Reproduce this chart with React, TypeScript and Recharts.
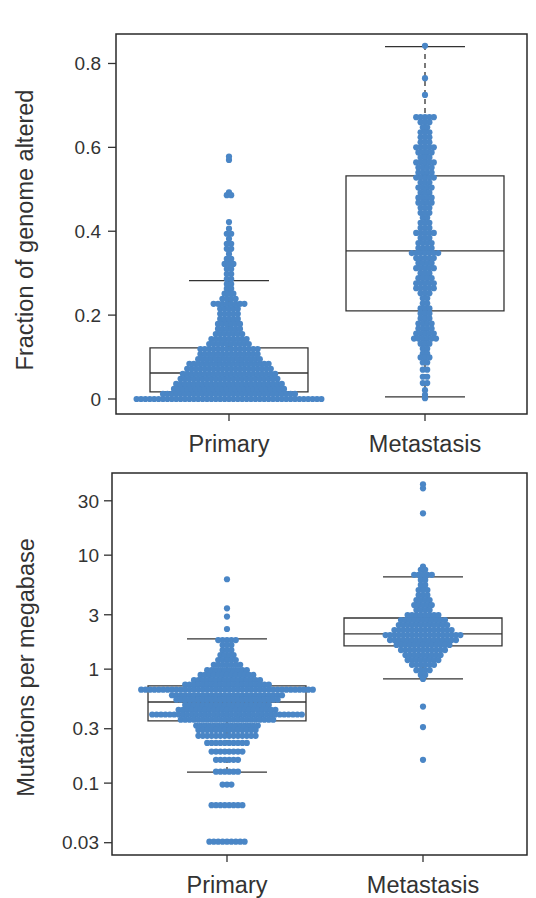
import { ScatterChart, Scatter, XAxis, YAxis, ReferenceArea, ReferenceLine } from 'recharts';

const GROUPS = ['Primary', 'Metastasis'];

// each row: [value, number of dots stacked side by side at that value]
const fgaPrimaryRows: [number, number][] = [
  [0, 43], [0.012, 31], [0.024, 26], [0.036, 25], [0.048, 23], [0.06, 22], [0.072, 20],
  [0.084, 19], [0.095, 15], [0.107, 14], [0.119, 14], [0.131, 10], [0.143, 9], [0.155, 7],
  [0.167, 6], [0.179, 6], [0.191, 5], [0.203, 5], [0.215, 5], [0.227, 8], [0.239, 4],
  [0.251, 3], [0.263, 2], [0.274, 2], [0.286, 2], [0.298, 2], [0.31, 2], [0.322, 3],
  [0.334, 2], [0.346, 1], [0.358, 2], [0.37, 2], [0.382, 1], [0.394, 2], [0.406, 1],
  [0.422, 1], [0.486, 2], [0.493, 1], [0.57, 1], [0.578, 1],
];
const fgaMetastasisRows: [number, number][] = [
  [0.842, 1], [0.765, 1], [0.725, 1], [0.672, 5], [0.66, 3], [0.648, 2], [0.636, 3],
  [0.624, 3], [0.612, 3], [0.6, 5], [0.588, 4], [0.576, 3], [0.564, 5], [0.552, 4],
  [0.54, 4], [0.528, 5], [0.516, 3], [0.504, 4], [0.492, 3], [0.48, 4], [0.468, 4],
  [0.456, 3], [0.444, 3], [0.432, 2], [0.42, 3], [0.408, 3], [0.396, 5], [0.384, 3],
  [0.372, 4], [0.36, 4], [0.348, 7], [0.336, 5], [0.324, 4], [0.312, 5], [0.3, 3],
  [0.288, 4], [0.276, 5], [0.264, 5], [0.252, 3], [0.24, 2], [0.228, 2], [0.216, 3],
  [0.204, 3], [0.192, 3], [0.18, 4], [0.168, 4], [0.156, 5], [0.144, 6], [0.132, 3],
  [0.12, 2], [0.108, 2], [0.099, 3], [0.087, 2], [0.07, 2], [0.053, 2], [0.038, 2],
  [0.021, 1], [0.01, 1], [0.002, 1],
];
// [lower whisker, q1, median, q3, upper whisker]
const fgaPrimaryBox = [0, 0.017, 0.062, 0.122, 0.282];
const fgaMetastasisBox = [0.005, 0.21, 0.353, 0.532, 0.84];
const fgaTicks = [0, 0.2, 0.4, 0.6, 0.8];

const tmbPrimaryRows: [number, number][] = [
  [6.15, 1], [3.42, 1], [2.89, 1], [2.25, 1], [1.8, 5], [1.63, 3], [1.47, 3], [1.33, 4],
  [1.2, 5], [1.09, 7], [0.98, 10], [0.89, 13], [0.8, 16], [0.73, 20], [0.66, 40],
  [0.59, 26], [0.54, 24], [0.485, 20], [0.44, 23], [0.4, 35], [0.36, 22], [0.32, 15],
  [0.293, 14], [0.26, 14], [0.225, 10], [0.189, 8], [0.16, 6], [0.126, 6], [0.097, 3],
  [0.064, 8], [0.0306, 9],
];
const tmbMetastasisRows: [number, number][] = [
  [41.9, 1], [38.6, 1], [23.3, 1], [7.93, 1], [7.44, 2], [6.72, 5], [6.07, 2], [5.48, 2],
  [4.95, 3], [4.47, 3], [4.04, 4], [3.65, 5], [3.3, 4], [2.98, 8], [2.7, 11], [2.44, 12],
  [2.2, 14], [1.99, 18], [1.8, 16], [1.63, 13], [1.47, 11], [1.33, 9], [1.2, 8], [1.09, 6],
  [0.98, 4], [0.89, 2], [0.82, 1], [0.469, 1], [0.31, 1], [0.16, 1],
];
const tmbPrimaryBox = [0.125, 0.351, 0.515, 0.712, 1.84];
const tmbMetastasisBox = [0.82, 1.6, 2.04, 2.81, 6.44];
const tmbTicks = [0.03, 0.1, 0.3, 1, 3, 10, 30];

const DOT = '#4a86c6';
const INK = '#333';
const FONT = '"Liberation Sans", Arial, sans-serif';
const DOT_R = 3.1;
const PITCH = 4.4; // horizontal spacing between dots in a row, px
const BOX_HALF = 0.403; // in x units (one group = 1)
const CAP_HALF = 0.204;

// spread each row symmetrically around the group centre
const toPoints = (rows: [number, number][], group: number) =>
  rows.flatMap(([y, n]) => Array.from({ length: n }, (_, i) => ({ x: group, y, slot: i - (n - 1) / 2 })));

const SwarmDot = (props: any) => {
  const { cx, cy, payload } = props;
  if (cx == null || cy == null) return null;
  return <circle cx={cx + payload.slot * PITCH} cy={cy} r={DOT_R} fill={DOT} />;
};

const boxElements = (stats: number[], g: number, key: string) => {
  const [lo, q1, med, q3, hi] = stats;
  const line = { stroke: INK, strokeWidth: 1.3 };
  return [
    <ReferenceArea key={key + 'box'} x1={g - BOX_HALF} x2={g + BOX_HALF} y1={q1} y2={q3} fill="none" fillOpacity={0} {...line} />,
    <ReferenceLine key={key + 'med'} segment={[{ x: g - BOX_HALF, y: med }, { x: g + BOX_HALF, y: med }]} {...line} />,
    <ReferenceLine key={key + 'wu'} segment={[{ x: g, y: q3 }, { x: g, y: hi }]} strokeDasharray="5 4" {...line} />,
    <ReferenceLine key={key + 'wl'} segment={[{ x: g, y: lo }, { x: g, y: q1 }]} strokeDasharray="5 4" {...line} />,
    <ReferenceLine key={key + 'cu'} segment={[{ x: g - CAP_HALF, y: hi }, { x: g + CAP_HALF, y: hi }]} {...line} />,
    <ReferenceLine key={key + 'cl'} segment={[{ x: g - CAP_HALF, y: lo }, { x: g + CAP_HALF, y: lo }]} {...line} />,
  ];
};

const axisTitle = (text: string, x: number, y: number) => () => (
  <text x={x} y={y} transform={`rotate(-90 ${x} ${y})`} textAnchor="middle" fontSize={23.5} fill={INK} fontFamily={FONT}>
    {text}
  </text>
);

type PanelProps = {
  top: number;
  height: number;
  marginTop: number;
  axisWidth: number;
  xAxisHeight: number;
  xDomain: [number, number];
  yDomain: [number, number];
  log?: boolean;
  ticks: number[];
  tickMargin: number;
  title: string;
  titleX: number;
  titleY: number;
  primary: [number, number][];
  metastasis: [number, number][];
  primaryBox: number[];
  metastasisBox: number[];
};

const Panel = (p: PanelProps) => {
  const points = [...toPoints(p.primary, 1), ...toPoints(p.metastasis, 2)];
  return (
    <div style={{ position: 'absolute', left: 0, top: p.top }}>
      <ScatterChart width={536} height={p.height} margin={{ top: p.marginTop, right: 9, bottom: 0, left: 0 }}>
        <XAxis
          type="number"
          dataKey="x"
          domain={p.xDomain}
          allowDataOverflow
          ticks={[1, 2]}
          tickFormatter={(v: number) => GROUPS[v - 1]}
          axisLine={false}
          tickLine={{ stroke: INK, strokeWidth: 1.3 }}
          tickSize={7}
          tickMargin={14}
          height={p.xAxisHeight}
          tick={{ fontSize: 23.5, fill: INK, fontFamily: FONT }}
        />
        <YAxis
          type="number"
          dataKey="y"
          scale={p.log ? 'log' : 'linear'}
          domain={p.yDomain}
          allowDataOverflow
          ticks={p.ticks}
          tickFormatter={(v: number) => String(v)}
          axisLine={false}
          tickLine={{ stroke: INK, strokeWidth: 1.3 }}
          tickSize={8}
          tickMargin={p.tickMargin}
          width={p.axisWidth}
          tick={{ fontSize: 19, fill: INK, fontFamily: FONT }}
          label={axisTitle(p.title, p.titleX, p.titleY)}
        />
        <ReferenceArea
          x1={p.xDomain[0]}
          x2={p.xDomain[1]}
          y1={p.yDomain[0]}
          y2={p.yDomain[1]}
          fill="none"
          fillOpacity={0}
          stroke="#2a2a2a"
          strokeWidth={1.5}
          ifOverflow="visible"
        />
        {boxElements(p.primaryBox, 1, 'p')}
        {boxElements(p.metastasisBox, 2, 'm')}
        <Scatter data={points} shape={SwarmDot} isAnimationActive={false} />
      </ScatterChart>
    </div>
  );
};

export default function App() {
  return (
    <div style={{ position: 'absolute', left: 0, top: 0, width: 536, height: 898, background: '#fff', fontFamily: FONT }}>
      <Panel
        top={0}
        height={460}
        marginTop={34}
        axisWidth={116}
        xAxisHeight={46}
        xDomain={[0.4235, 2.5204]}
        yDomain={[-0.0358, 0.8703]}
        ticks={fgaTicks}
        tickMargin={7}
        title="Fraction of genome altered"
        titleX={33}
        titleY={230}
        primary={fgaPrimaryRows}
        metastasis={fgaMetastasisRows}
        primaryBox={fgaPrimaryBox}
        metastasisBox={fgaMetastasisBox}
      />
      <Panel
        top={460}
        height={438}
        marginTop={13}
        axisWidth={112}
        xAxisHeight={43}
        xDomain={[0.4133, 2.5306]}
        yDomain={[0.0234, 52.6]}
        log
        ticks={tmbTicks}
        tickMargin={5}
        title="Mutations per megabase"
        titleX={34}
        titleY={207.5}
        primary={tmbPrimaryRows}
        metastasis={tmbMetastasisRows}
        primaryBox={tmbPrimaryBox}
        metastasisBox={tmbMetastasisBox}
      />
    </div>
  );
}
